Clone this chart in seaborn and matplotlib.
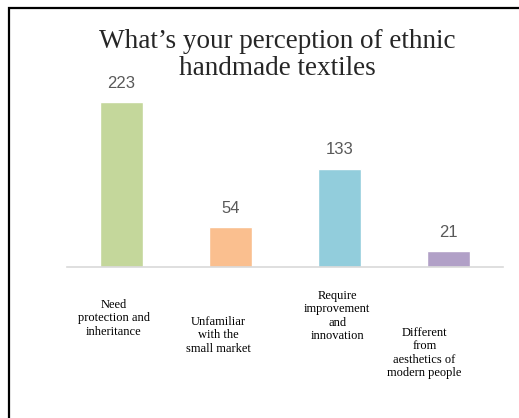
import matplotlib
matplotlib.use("Agg")
import matplotlib.pyplot as plt
import seaborn as sns
import pandas as pd
from matplotlib.patches import Rectangle

# Chart data
categories = ["Need\nprotection and\ninheritance",
              "Unfamiliar\nwith the\nsmall market",
              "Require\nimprovement\nand\ninnovation",
              "Different\nfrom\naesthetics of\nmodern people"]
counts = [223, 54, 133, 21]
bar_colors = ["#c4d79b", "#fabf8f", "#92cddc", "#b1a0c7"]
title = "What\u2019s your perception of ethnic\nhandmade textiles"

# Label layout (x offset in bar units, y top in axes fraction)
label_dx = [-0.07, -0.11, -0.02, -0.22]
label_y = [-0.173, -0.265, -0.124, -0.324]

sns.set_theme(style="white")
plt.rcParams["font.family"] = ["Liberation Serif", "DejaVu Serif"]

fig = plt.figure(figsize=(5.19, 4.18), dpi=100)
ax = fig.add_axes([67 / 519, 151 / 418, 436 / 519, 185 / 418])

df = pd.DataFrame({"cat": categories, "n": counts})
sns.barplot(data=df, x="cat", y="n", hue="cat", palette=bar_colors,
            legend=False, width=0.4, ax=ax, saturation=1)

for c in ax.containers:
    ax.bar_label(c, padding=8, fontsize=12, color="#595959",
                 family="Liberation Sans")

ax.set_xlim(-0.5, 3.5)
ax.set_ylim(0, 250)
ax.set_xlabel("")
ax.set_ylabel("")
ax.set_xticks([])
ax.set_yticks([])
for s in ["top", "right", "left"]:
    ax.spines[s].set_visible(False)
ax.spines["bottom"].set_color("#d9d9d9")
ax.spines["bottom"].set_linewidth(1.2)

# category labels below the baseline
for i, lab in enumerate(categories):
    ax.text(i + label_dx[i], label_y[i], lab, transform=ax.get_xaxis_transform(),
            ha="center", va="top", fontsize=9, color="black",
            linespacing=1.15, family="Liberation Serif")

fig.text(277 / 519, 1 - 29 / 418, title, ha="center", va="top",
         fontsize=19.5, linespacing=1.12, family="Liberation Serif")

# slide frame
fig.add_artist(Rectangle((8.5 / 519, -0.1), 1.0, 1.1 - 8.5 / 418,
                         transform=fig.transFigure, fill=False,
                         edgecolor="black", linewidth=1.6))

fig.savefig("out.png", dpi=100, facecolor="white")
